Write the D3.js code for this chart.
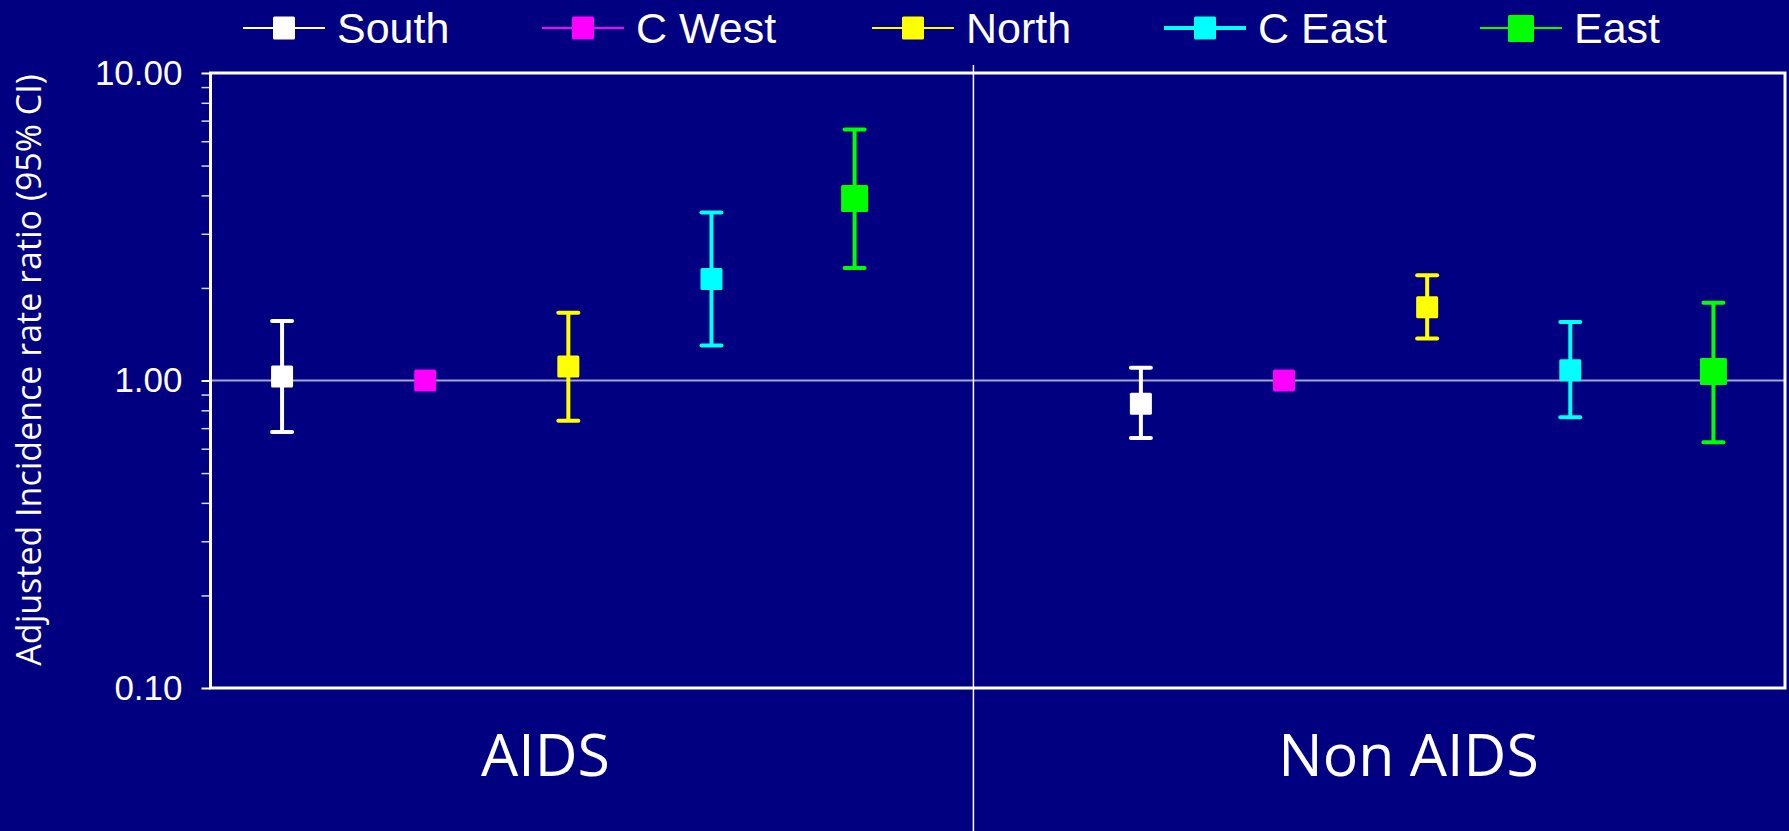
<!DOCTYPE html>
<html>
<head>
<meta charset="utf-8">
<script src="https://cdn.jsdelivr.net/npm/d3@7"></script>
<style>
  body { margin: 0; background: #000080; }
  svg { display: block; }
</style>
</head>
<body>
<script>
// regions (series) and the two outcome categories
var regions = ["South", "C West", "North", "C East", "East"];
var regionColors = ["#ffffff", "#ff00ff", "#ffff00", "#00ffff", "#00ff00"];
var categories = ["AIDS", "Non AIDS"];

// adjusted incidence rate ratios (C West is reference = 1)
var aidsIRR   = [1.03, 1.00, 1.11, 2.14, 3.91];
var aidsLower = [0.68, null, 0.74, 1.30, 2.32];
var aidsUpper = [1.56, null, 1.66, 3.52, 6.55];

var nonAidsIRR   = [0.84, 1.00, 1.73, 1.08, 1.07];
var nonAidsLower = [0.65, null, 1.37, 0.76, 0.63];
var nonAidsUpper = [1.10, null, 2.20, 1.55, 1.79];

var majorTicks = [0.1, 1, 10];
var tickLabels = ["0.10", "1.00", "10.00"];

window.onload = drawChart();

function drawChart(){
	var width = 1789, height = 831;
	var plot = {left: 210.5, right: 1785, top: 73, bottom: 688};

	var svg = d3.select("body").append("svg")
		.attr("width", width)
		.attr("height", height);

	svg.append("rect").attr("width", width).attr("height", height).attr("fill", "#000080");

	//log y scale and an x scale in "slots": 5 regions, a gap, 5 regions
	var y = d3.scaleLog().domain([0.1, 10]).range([plot.bottom, plot.top]);
	var x = d3.scaleLinear().domain([0, 11]).range([plot.left, plot.right]);

	//build the point table from the arrays
	var points = [];
	regions.forEach(function(r, i){
		points.push({region: r, color: regionColors[i], slot: i, v: aidsIRR[i], lo: aidsLower[i], hi: aidsUpper[i], big: r == "East"});
		points.push({region: r, color: regionColors[i], slot: i + 6, v: nonAidsIRR[i], lo: nonAidsLower[i], hi: nonAidsUpper[i], big: r == "East"});
	});

	//reference line at 1.00
	svg.append("line")
		.attr("x1", plot.left).attr("x2", plot.right)
		.attr("y1", y(1)).attr("y2", y(1))
		.attr("stroke", "#a4a4d2").attr("stroke-width", 2);

	//divider between the two categories
	svg.append("line")
		.attr("x1", x(5.33)).attr("x2", x(5.33))
		.attr("y1", 65).attr("y2", height)
		.attr("stroke", "#ffffff").attr("stroke-width", 1.5);

	//y axis: major ticks with labels and minor ticks
	var minor = [];
	[0.1, 1].forEach(function(d){
		for (var k = 2; k <= 9; k++) minor.push(d * k);
	});
	var minorAxis = svg.append("g")
		.attr("transform", "translate(" + plot.left + ",0)")
		.call(d3.axisLeft(y).tickValues(minor).tickSize(9).tickFormat(""));
	minorAxis.select(".domain").remove();
	minorAxis.selectAll("line").attr("stroke", "#d8d8e8").attr("stroke-width", 1.5);

	var majorAxis = svg.append("g")
		.attr("transform", "translate(" + plot.left + ",0)")
		.call(d3.axisLeft(y).tickValues(majorTicks).tickSize(9).tickPadding(19)
			.tickFormat(function(d, i){ return tickLabels[i]; }));
	majorAxis.select(".domain").remove();
	majorAxis.selectAll("line").attr("stroke", "#ffffff").attr("stroke-width", 2);
	majorAxis.selectAll("text")
		.attr("fill", "#ffffff")
		.style("font-family", "'Liberation Sans', Arial, sans-serif")
		.style("font-size", "35px");

	//error bars
	var bars = points.filter(function(d){ return d.lo != null; });
	var eb = svg.selectAll(".errbar").data(bars).enter().append("g").attr("class", "errbar");
	eb.append("line")
		.attr("x1", function(d){ return x(d.slot + 0.5); })
		.attr("x2", function(d){ return x(d.slot + 0.5); })
		.attr("y1", function(d){ return y(d.lo); })
		.attr("y2", function(d){ return y(d.hi); })
		.attr("stroke", function(d){ return d.color; })
		.attr("stroke-width", 4);
	["lo", "hi"].forEach(function(key){
		eb.append("line")
			.attr("x1", function(d){ return x(d.slot + 0.5) - 10; })
			.attr("x2", function(d){ return x(d.slot + 0.5) + 10; })
			.attr("y1", function(d){ return y(d[key]); })
			.attr("y2", function(d){ return y(d[key]); })
			.attr("stroke", function(d){ return d.color; })
			.attr("stroke-width", 4)
			.attr("stroke-linecap", "round");
	});

	//square markers
	svg.selectAll(".marker").data(points).enter().append("rect")
		.attr("class", "marker")
		.attr("x", function(d){ return x(d.slot + 0.5) - (d.big ? 13.5 : 11); })
		.attr("y", function(d){ return y(d.v) - (d.big ? 13.5 : 11); })
		.attr("width", function(d){ return d.big ? 27 : 22; })
		.attr("height", function(d){ return d.big ? 27 : 22; })
		.attr("rx", 1.5)
		.attr("fill", function(d){ return d.color; });

	//plot frame
	svg.append("rect")
		.attr("x", plot.left).attr("y", plot.top)
		.attr("width", plot.right - plot.left).attr("height", plot.bottom - plot.top)
		.attr("fill", "none").attr("stroke", "#ffffff").attr("stroke-width", 3);

	//category labels under the frame
	var catPos = [2.34, 8.37];
	svg.selectAll(".cat").data(categories).enter().append("text")
		.attr("class", "cat")
		.attr("x", function(d, i){ return x(catPos[i]); })
		.attr("y", 776)
		.attr("text-anchor", "middle")
		.attr("fill", "#ffffff")
		.style("font-family", "'Open Sans', 'Noto Sans', sans-serif")
		.style("font-size", "59px")
		.text(function(d){ return d; });

	//y axis title
	svg.append("text")
		.attr("transform", "translate(41," + 370 + ") rotate(-90)")
		.attr("text-anchor", "middle")
		.attr("fill", "#ffffff")
		.style("font-family", "'Open Sans', 'Noto Sans', sans-serif")
		.style("font-size", "34px")
		.text("Adjusted Incidence rate ratio (95% CI)");

	//legend along the top
	var legendX = [284, 583, 913, 1205, 1521];
	var legendLineW = [2, 2, 2, 4, 2];
	var lg = svg.selectAll(".legend").data(regions).enter().append("g")
		.attr("class", "legend")
		.attr("transform", function(d, i){ return "translate(" + legendX[i] + ",28)"; });
	lg.append("line")
		.attr("x1", -41).attr("x2", 41)
		.attr("stroke", function(d, i){ return regionColors[i]; })
		.attr("stroke-width", function(d, i){ return legendLineW[i]; });
	lg.append("rect")
		.attr("x", function(d){ return d == "East" ? -13 : -11; })
		.attr("y", function(d){ return d == "East" ? -13 : -11.5; })
		.attr("width", function(d){ return d == "East" ? 26 : 22; })
		.attr("height", function(d){ return d == "East" ? 27 : 23; })
		.attr("rx", 1.5)
		.attr("fill", function(d, i){ return regionColors[i]; });
	lg.append("text")
		.attr("x", 53)
		.attr("y", 15)
		.attr("fill", "#ffffff")
		.style("font-family", "'Liberation Sans', Arial, sans-serif")
		.style("font-size", "43px")
		.text(function(d){ return d; });
}
</script>
</body>
</html>
